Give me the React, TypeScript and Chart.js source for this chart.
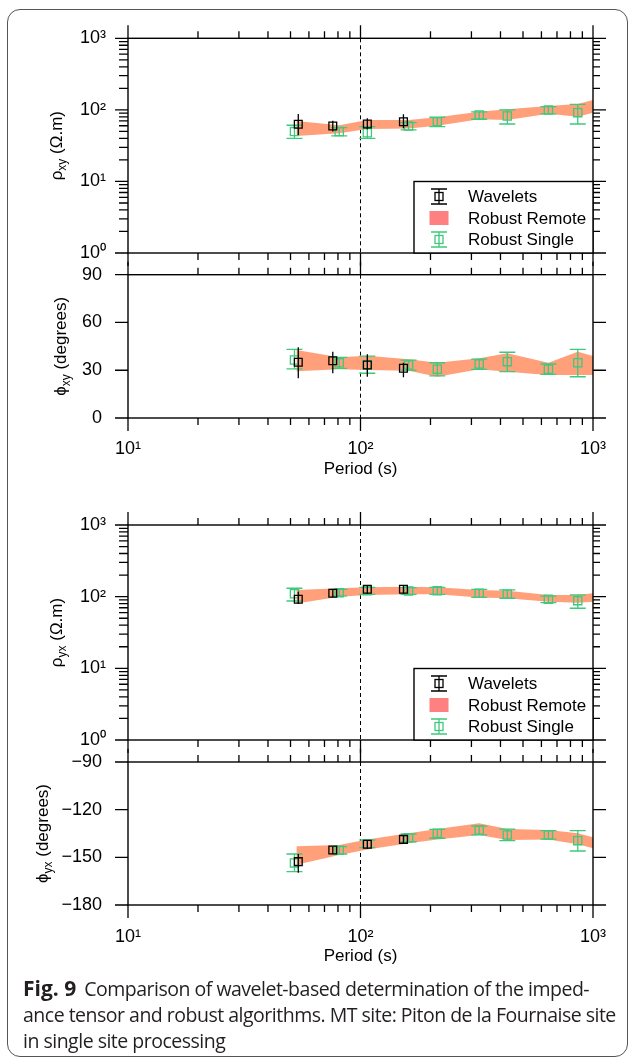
import React, { useEffect, useRef } from 'react';
import { Chart, registerables } from 'chart.js';
Chart.register(...registerables);

const FONT = '"Liberation Sans", Arial, Helvetica, sans-serif';
const GREEN = '#3DC97E';
const SALMON = '#FFA07A';
const LEGEND_SALMON = '#FF8080';

// ---- periods (s) ----
const periodWave = [54, 76, 107, 153];
const periodSingle = [52, 81, 107, 161, 214, 324, 428, 643, 860];
const periodRemote = [53, 81, 107, 161, 214, 324, 428, 643, 860, 1000];

// ---- rho_xy ----
const rhoXYWave = [63, 59.6, 63.5, 68.4];
const rhoXYWaveLow = [44.7, 49.7, 53.6, 55.3];
const rhoXYWaveHigh = [87.7, 70.6, 76.4, 86.9];
const rhoXYSingle = [49.7, 49.7, 48, 59.6, 68.4, 84.9, 82.2, 99.7, 91.4];
const rhoXYSingleLow = [40, 43.2, 40, 52.4, 58.2, 74, 63.5, 87.7, 63.5];
const rhoXYSingleHigh = [61, 56.4, 58.2, 66.2, 78.9, 93.5, 99.7, 111, 119.6];
const rhoXYRemoteHigh = [70, 61, 72, 72, 79, 94, 102, 113, 121, 137];
const rhoXYRemoteLow = [43, 47, 54, 55, 60, 74, 72, 88, 80, 91];

// ---- phi_xy ----
const phiXYWave = [35, 36, 33.3, 31.2];
const phiXYWaveLow = [24.9, 28.1, 25.9, 25.6];
const phiXYWaveHigh = [44.4, 41.6, 40, 34.7];
const phiXYSingle = [36.4, 34.7, 33.5, 33.3, 30.6, 33.9, 35.4, 30.6, 34.7];
const phiXYSingleLow = [30.8, 31.2, 28.1, 30.1, 26.4, 30.6, 29.1, 27.4, 25.9];
const phiXYSingleHigh = [43.1, 38.1, 38.9, 36.4, 34.7, 37, 41.3, 33.9, 43.1];
const phiXYRemoteHigh = [42.7, 38.1, 39.1, 36.9, 34.7, 37.5, 40.6, 34.7, 41.6, 38.9];
const phiXYRemoteLow = [29.4, 30.6, 30.1, 29.7, 25.9, 30.6, 29.1, 27, 27, 27];

// ---- rho_yx ----
const rhoYXWave = [92, 111.5, 126.7, 126.7];
const rhoYXWaveLow = [79, 98, 109.6, 109.6];
const rhoYXWaveHigh = [117.5, 126, 145.5, 145.5];
const rhoYXSingle = [109.6, 113.8, 121.4, 120.2, 121.4, 111.5, 108, 92, 88];
const rhoYXSingleLow = [87, 102.3, 107.9, 107.9, 107.9, 98, 95, 82.5, 68.9];
const rhoYXSingleHigh = [131, 126.7, 135.2, 133.7, 135.2, 126.7, 124, 102, 105.6];
const rhoYXRemoteHigh = [124, 131, 135, 138, 135, 124, 121, 105.6, 105.6, 111.5];
const rhoYXRemoteLow = [80, 100, 105.6, 108, 108, 97, 95, 85, 82.5, 85];

// ---- phi_yx ----
const phiYXWave = [-152.7, -145.4, -141.8, -138.7];
const phiYXWaveLow = [-159.7, -147.9, -144.6, -141.2];
const phiYXWaveHigh = [-147.9, -143.3, -139.5, -136.4];
const phiYXSingle = [-153.5, -145.6, -141.5, -137.6, -134.9, -132.8, -135.9, -135.9, -139.5];
const phiYXSingleLow = [-159, -147.9, -143.9, -140.2, -138, -135.9, -139.5, -138.5, -146];
const phiYXSingleHigh = [-147.9, -143.3, -139.1, -135.3, -132.4, -130.3, -132.2, -133.2, -133.2];
const phiYXRemoteHigh = [-143.1, -142.2, -138.7, -134.9, -132.2, -128.6, -132.2, -132.8, -134.9, -137.4];
const phiYXRemoteLow = [-154.6, -148.5, -145, -141.2, -138.7, -135.9, -139.1, -138.7, -141.8, -144.3];

// ---- ticks & labels ----
const xDecades = [10, 100, 1000];
const xDecadeLabels = ['10¹', '10²', '10³'];
const rhoDecades = [1, 10, 100, 1000];
const rhoDecadeLabels = ['10⁰', '10¹', '10²', '10³'];
const phiXYTicks = [0, 30, 60, 90];
const phiXYTickLabels = ['0', '30', '60', '90'];
const phiYXTicks = [-180, -150, -120, -90];
const phiYXTickLabels = ['−180', '−150', '−120', '−90'];
const legendLabels = ['Wavelets', 'Robust Remote', 'Robust Single'];
const xTitle = 'Period (s)';
const refPeriod = 100;

function minorLog(decades: number[]) {
  const out: number[] = [];
  for (let i = 0; i < decades.length - 1; i++) {
    for (let m = 2; m <= 9; m++) out.push(decades[i] * m);
  }
  return out;
}

function toXY(xs: number[], ys: number[]) {
  return xs.map((x, i) => ({ x, y: ys[i] }));
}

function drawErrSymbol(ctx: CanvasRenderingContext2D, x: number, y: number, color: string) {
  ctx.save();
  ctx.strokeStyle = color;
  ctx.lineWidth = 1.3;
  ctx.beginPath();
  ctx.moveTo(x, y - 7.5); ctx.lineTo(x, y + 7.5);
  ctx.moveTo(x - 8, y - 7.5); ctx.lineTo(x + 8, y - 7.5);
  ctx.moveTo(x - 8, y + 7.5); ctx.lineTo(x + 8, y + 7.5);
  ctx.stroke();
  ctx.strokeRect(x - 4, y - 4, 8, 8);
  ctx.restore();
}

const decoPlugin = {
  id: 'deco',
  beforeDatasetsDraw(chart: any) {
    const { top, bottom } = chart.chartArea;
    const px = chart.scales.x.getPixelForValue(refPeriod);
    const ctx = chart.ctx;
    ctx.save();
    ctx.strokeStyle = '#000';
    ctx.lineWidth = 1;
    ctx.setLineDash([4, 3]);
    ctx.beginPath();
    ctx.moveTo(px, top); ctx.lineTo(px, bottom);
    ctx.stroke();
    ctx.restore();
  },
  beforeDatasetDraw(chart: any, args: any) {
    const ds = chart.data.datasets[args.index];
    if (!ds.errLow) return;
    const ctx = chart.ctx;
    const xs = chart.scales.x, ys = chart.scales.y;
    ctx.save();
    ctx.strokeStyle = ds.pointBorderColor;
    ctx.lineWidth = 1.3;
    ctx.beginPath();
    ds.data.forEach((p: any, i: number) => {
      const x = xs.getPixelForValue(p.x);
      const y1 = ys.getPixelForValue(ds.errLow[i]);
      const y2 = ys.getPixelForValue(ds.errHigh[i]);
      ctx.moveTo(x, y1); ctx.lineTo(x, y2);
      if (ds.cap) {
        ctx.moveTo(x - ds.cap, y1); ctx.lineTo(x + ds.cap, y1);
        ctx.moveTo(x - ds.cap, y2); ctx.lineTo(x + ds.cap, y2);
      }
    });
    ctx.stroke();
    ctx.restore();
  },
  afterDatasetsDraw(chart: any, _args: any, o: any) {
    const ctx = chart.ctx;
    const { left, right, top, bottom } = chart.chartArea;
    const xs = chart.scales.x, ys = chart.scales.y;
    ctx.save();
    ctx.strokeStyle = '#000';
    ctx.lineWidth = 1.4;
    ctx.strokeRect(left, top, right - left, bottom - top);
    ctx.lineWidth = 1.3;
    ctx.beginPath();
    for (const v of xDecades) {
      const p = xs.getPixelForValue(v);
      ctx.moveTo(p, top); ctx.lineTo(p, top - 13);
      ctx.moveTo(p, bottom); ctx.lineTo(p, bottom + 13);
    }
    for (const v of minorLog(xDecades)) {
      const p = xs.getPixelForValue(v);
      ctx.moveTo(p, top); ctx.lineTo(p, top - 7);
      ctx.moveTo(p, bottom); ctx.lineTo(p, bottom + 7);
    }
    for (const v of o.yMajor) {
      const p = ys.getPixelForValue(v);
      ctx.moveTo(left, p); ctx.lineTo(left - 13, p);
      ctx.moveTo(right, p); ctx.lineTo(right + 13, p);
    }
    for (const v of o.yMinor) {
      const p = ys.getPixelForValue(v);
      ctx.moveTo(left, p); ctx.lineTo(left - 9, p);
      ctx.moveTo(right, p); ctx.lineTo(right + 7, p);
    }
    ctx.stroke();
    ctx.restore();
  },
  afterDraw(chart: any, _args: any, o: any) {
    const ctx = chart.ctx;
    const area = chart.chartArea;
    // rotated y title with subscript
    ctx.save();
    ctx.translate(o.titleX, (area.top + area.bottom) / 2);
    ctx.rotate(-Math.PI / 2);
    const parts = o.titleParts as { t: string; sub?: boolean }[];
    let total = 0;
    const widths = parts.map((p) => {
      ctx.font = `${p.sub ? 12 : 17}px ${FONT}`;
      const w = ctx.measureText(p.t).width;
      total += w;
      return w;
    });
    let x = -total / 2;
    ctx.fillStyle = '#000';
    ctx.textAlign = 'left';
    ctx.textBaseline = 'alphabetic';
    parts.forEach((p, i) => {
      ctx.font = `${p.sub ? 12 : 17}px ${FONT}`;
      ctx.fillText(p.t, x, p.sub ? 4 : 0);
      x += widths[i];
    });
    ctx.restore();

    if (o.legend) {
      const w = 179, h = 71.5;
      const lx = area.right - w, ly = area.bottom - h;
      ctx.save();
      ctx.fillStyle = '#fff';
      ctx.fillRect(lx, ly, w, h);
      ctx.strokeStyle = '#000';
      ctx.lineWidth = 1.4;
      ctx.strokeRect(lx, ly, w, h);
      const sx = lx + 25, tx = lx + 54;
      const rows = [ly + 15, ly + 36.5, ly + 58];
      drawErrSymbol(ctx, sx, rows[0], '#000');
      ctx.fillStyle = LEGEND_SALMON;
      ctx.fillRect(sx - 9.5, rows[1] - 7, 19, 14);
      drawErrSymbol(ctx, sx, rows[2], GREEN);
      ctx.font = `17px ${FONT}`;
      ctx.fillStyle = '#000';
      ctx.textAlign = 'left';
      ctx.textBaseline = 'middle';
      legendLabels.forEach((l, i) => ctx.fillText(l, tx, rows[i] + 1));
      ctx.restore();
    }
  },
};

type PanelCfg = {
  padTop: number;
  xHeight: number;
  showX: boolean;
  xLabelPad: number;
  xTitlePad: number;
  yLog: boolean;
  yMin: number;
  yMax: number;
  yTicks: number[];
  yTickLabels: string[];
  yLabelPad: number;
  titleParts: { t: string; sub?: boolean }[];
  titleX: number;
  legend: boolean;
  wave: number[]; waveLow: number[]; waveHigh: number[];
  single: number[]; singleLow: number[]; singleHigh: number[];
  remoteHigh: number[]; remoteLow: number[];
};

function makeConfig(c: PanelCfg): any {
  const tickFont = { family: FONT, size: 18 };
  return {
    type: 'line',
    data: {
      datasets: [
        {
          label: legendLabels[0],
          data: toXY(periodWave, c.wave),
          errLow: c.waveLow, errHigh: c.waveHigh, cap: 0,
          showLine: false,
          pointStyle: 'rect',
          pointRadius: 5.5,
          pointBorderWidth: 1.3,
          pointBorderColor: '#000',
          pointBackgroundColor: 'rgba(0,0,0,0)',
          order: 1,
        },
        {
          label: legendLabels[2],
          data: toXY(periodSingle, c.single),
          errLow: c.singleLow, errHigh: c.singleHigh, cap: 8,
          showLine: false,
          pointStyle: 'rect',
          pointRadius: 5.8,
          pointBorderWidth: 1.3,
          pointBorderColor: GREEN,
          pointBackgroundColor: 'rgba(0,0,0,0)',
          order: 2,
        },
        {
          label: legendLabels[1] + ' upper',
          data: toXY(periodRemote, c.remoteHigh),
          borderColor: 'rgba(0,0,0,0)',
          borderWidth: 0,
          pointRadius: 0,
          fill: false,
          tension: 0,
          order: 3,
        },
        {
          label: legendLabels[1],
          data: toXY(periodRemote, c.remoteLow),
          borderColor: 'rgba(0,0,0,0)',
          backgroundColor: SALMON,
          borderWidth: 0,
          pointRadius: 0,
          fill: '-1',
          tension: 0,
          order: 3,
        },
      ],
    },
    options: {
      animation: false,
      responsive: false,
      maintainAspectRatio: false,
      events: [],
      layout: { padding: { top: c.padTop, right: 36, left: 0, bottom: 0 } },
      plugins: {
        legend: { display: false },
        tooltip: { enabled: false },
        deco: {
          yMajor: c.yTicks,
          yMinor: c.yLog ? minorLog(c.yTicks) : [],
          titleParts: c.titleParts,
          titleX: c.titleX,
          legend: c.legend,
        },
      },
      scales: {
        x: {
          type: 'logarithmic',
          position: 'bottom',
          min: 10,
          max: 1000,
          grid: { display: false, drawTicks: false },
          border: { display: false },
          afterBuildTicks: (s: any) => { s.ticks = xDecades.map((v) => ({ value: v })); },
          afterFit: (s: any) => {
            s.height = c.xHeight;
            s.paddingLeft = 0; s.paddingRight = 0; s.paddingTop = 0; s.paddingBottom = 0;
          },
          ticks: {
            display: c.showX,
            autoSkip: false,
            maxRotation: 0,
            padding: c.xLabelPad,
            color: '#000',
            font: tickFont,
            callback: (v: any) => {
              const i = xDecades.indexOf(Number(v));
              return i >= 0 ? xDecadeLabels[i] : '';
            },
          },
          title: {
            display: c.showX,
            text: xTitle,
            color: '#000',
            font: { family: FONT, size: 17 },
            padding: { top: 0, bottom: c.xTitlePad },
          },
        },
        y: {
          type: c.yLog ? 'logarithmic' : 'linear',
          position: 'left',
          min: c.yMin,
          max: c.yMax,
          grid: { display: false, drawTicks: false },
          border: { display: false },
          afterBuildTicks: (s: any) => { s.ticks = c.yTicks.map((v) => ({ value: v })); },
          afterFit: (s: any) => {
            s.width = 128;
            s.paddingLeft = 0; s.paddingRight = 0; s.paddingTop = 0; s.paddingBottom = 0;
          },
          ticks: {
            autoSkip: false,
            padding: c.yLabelPad,
            color: '#000',
            font: tickFont,
            callback: (v: any) => {
              const i = c.yTicks.indexOf(Number(v));
              return i >= 0 ? c.yTickLabels[i] : '';
            },
          },
        },
      },
    },
    plugins: [decoPlugin],
  };
}

function Panel({ top, height, cfg }: { top: number; height: number; cfg: PanelCfg }) {
  const ref = useRef<HTMLCanvasElement>(null);
  useEffect(() => {
    const chart = new Chart(ref.current as HTMLCanvasElement, makeConfig(cfg));
    return () => chart.destroy();
  }, []);
  return (
    <canvas
      ref={ref}
      width={629}
      height={height}
      style={{ position: 'absolute', left: 0, top, width: 629, height }}
    />
  );
}

const panels: { top: number; height: number; cfg: PanelCfg }[] = [
  {
    top: 0, height: 270,
    cfg: {
      padTop: 38.3, xHeight: 17, showX: false, xLabelPad: 0, xTitlePad: 0,
      yLog: true, yMin: 1, yMax: 1000, yTicks: rhoDecades, yTickLabels: rhoDecadeLabels, yLabelPad: 22,
      titleParts: [{ t: 'ρ' }, { t: 'xy', sub: true }, { t: ' (Ω.m)' }], titleX: 62, legend: true,
      wave: rhoXYWave, waveLow: rhoXYWaveLow, waveHigh: rhoXYWaveHigh,
      single: rhoXYSingle, singleLow: rhoXYSingleLow, singleHigh: rhoXYSingleHigh,
      remoteHigh: rhoXYRemoteHigh, remoteLow: rhoXYRemoteLow,
    },
  },
  {
    top: 258, height: 242,
    cfg: {
      padTop: 16.7, xHeight: 82, showX: true, xLabelPad: 20.3, xTitlePad: 20.8,
      yLog: false, yMin: 0, yMax: 90, yTicks: phiXYTicks, yTickLabels: phiXYTickLabels, yLabelPad: 26,
      titleParts: [{ t: 'ϕ' }, { t: 'xy', sub: true }, { t: ' (degrees)' }], titleX: 66, legend: false,
      wave: phiXYWave, waveLow: phiXYWaveLow, waveHigh: phiXYWaveHigh,
      single: phiXYSingle, singleLow: phiXYSingleLow, singleHigh: phiXYSingleHigh,
      remoteHigh: phiXYRemoteHigh, remoteLow: phiXYRemoteLow,
    },
  },
  {
    top: 500, height: 265,
    cfg: {
      padTop: 25, xHeight: 25, showX: false, xLabelPad: 0, xTitlePad: 0,
      yLog: true, yMin: 1, yMax: 1000, yTicks: rhoDecades, yTickLabels: rhoDecadeLabels, yLabelPad: 22,
      titleParts: [{ t: 'ρ' }, { t: 'yx', sub: true }, { t: ' (Ω.m)' }], titleX: 61.5, legend: true,
      wave: rhoYXWave, waveLow: rhoYXWaveLow, waveHigh: rhoYXWaveHigh,
      single: rhoYXSingle, singleLow: rhoYXSingleLow, singleHigh: rhoYXSingleHigh,
      remoteHigh: rhoYXRemoteHigh, remoteLow: rhoYXRemoteLow,
    },
  },
  {
    top: 745, height: 230,
    cfg: {
      padTop: 17, xHeight: 70, showX: true, xLabelPad: 21.3, xTitlePad: 8.8,
      yLog: false, yMin: -180, yMax: -90, yTicks: phiYXTicks, yTickLabels: phiYXTickLabels, yLabelPad: 26,
      titleParts: [{ t: 'ϕ' }, { t: 'yx', sub: true }, { t: ' (degrees)' }], titleX: 48, legend: false,
      wave: phiYXWave, waveLow: phiYXWaveLow, waveHigh: phiYXWaveHigh,
      single: phiYXSingle, singleLow: phiYXSingleLow, singleHigh: phiYXSingleHigh,
      remoteHigh: phiYXRemoteHigh, remoteLow: phiYXRemoteLow,
    },
  },
];

export default function App() {
  return (
    <div style={{ position: 'absolute', left: 0, top: 0, width: 629, height: 1061, background: '#fff' }}>
      <div
        style={{
          position: 'absolute', left: 7, top: 9, width: 621, height: 1048,
          boxSizing: 'border-box', border: '1px solid #555', borderRadius: 13,
        }}
      />
      {panels.map((p, i) => (
        <Panel key={i} top={p.top} height={p.height} cfg={p.cfg} />
      ))}
      <div
        style={{
          position: 'absolute', left: 23, top: 974.5, fontFamily: '"Open Sans", "Noto Sans", sans-serif',
          fontSize: 19.5, lineHeight: '26px', color: '#231f20', whiteSpace: 'nowrap', letterSpacing: -0.5,
        }}
      >
        <div><b style={{ marginRight: 8, fontSize: 21, letterSpacing: 0 }}>Fig. 9</b>Comparison of wavelet-based determination of the imped-</div>
        <div>ance tensor and robust algorithms. MT site: Piton de la Fournaise site</div>
        <div>in single site processing</div>
      </div>
    </div>
  );
}
